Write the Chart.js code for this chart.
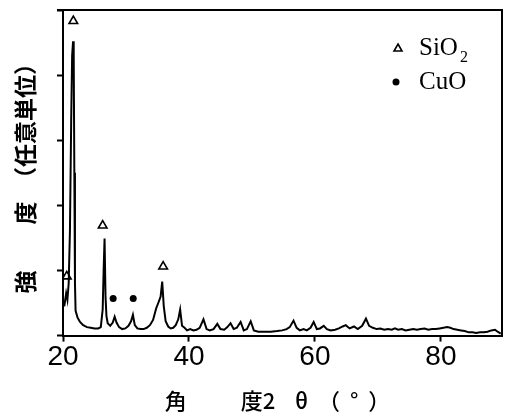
<!DOCTYPE html>
<html><head><meta charset="utf-8">
<script src="https://cdn.jsdelivr.net/npm/chart.js@4/dist/chart.umd.min.js"></script>
<style>html,body{margin:0;padding:0;background:#fff}</style>
</head><body>
<canvas id="c" width="509" height="416" style="width:509px;height:416px;display:block"></canvas>
<script>
// 2θ (degrees) and intensity (arbitrary units)
const angle = [20.2,20.5,20.7,20.9,21.1,21.3,21.45,21.6,21.7,21.8,21.9,22.0,22.3,22.7,23.2,23.8,24.4,25.0,25.6,26.0,26.3,26.45,26.6,26.75,26.9,27.1,27.5,27.9,28.2,28.5,28.9,29.4,29.9,30.4,30.8,31.1,31.4,31.8,32.3,32.8,33.3,33.8,34.3,34.8,35.2,35.5,35.75,36.0,36.3,36.7,37.1,37.5,37.9,38.3,38.6,38.9,39.3,39.7,40.2,40.7,41.2,41.7,42.3,42.8,43.3,43.9,44.5,45.0,45.6,46.1,46.6,47.1,47.6,48.2,48.7,49.2,49.8,50.3,51.0,52.0,53.0,54.0,54.8,55.5,56.0,56.6,57.1,57.6,58.2,58.7,59.3,59.8,60.3,60.8,61.4,61.9,62.5,63.2,63.8,64.4,64.9,65.5,66.2,66.8,67.5,68.1,68.6,69.2,69.8,70.4,71.0,71.6,72.2,72.7,73.2,73.8,74.4,75.0,75.6,76.2,76.8,77.4,78.0,78.6,79.2,79.8,80.4,81.0,81.5,82.0,82.6,83.2,83.8,84.4,85.0,85.6,86.2,86.8,87.4,88.0,88.6,89.0,89.5];
const intensity = [0.45,0.65,0.55,0.8,1.6,3.3,4.3,4.52,4.3,2.5,0.8,0.38,0.28,0.21,0.16,0.13,0.12,0.11,0.11,0.13,0.4,1.0,1.49,0.6,0.3,0.19,0.15,0.2,0.29,0.2,0.13,0.1,0.11,0.15,0.22,0.32,0.16,0.11,0.1,0.1,0.12,0.16,0.24,0.42,0.52,0.6,0.83,0.45,0.22,0.14,0.11,0.12,0.16,0.25,0.4,0.15,0.12,0.08,0.1,0.08,0.09,0.12,0.25,0.1,0.08,0.1,0.18,0.1,0.09,0.13,0.19,0.1,0.12,0.21,0.08,0.1,0.22,0.08,0.06,0.06,0.06,0.07,0.08,0.1,0.13,0.23,0.12,0.08,0.1,0.08,0.12,0.21,0.1,0.11,0.15,0.1,0.08,0.09,0.11,0.14,0.16,0.11,0.14,0.1,0.15,0.26,0.15,0.12,0.1,0.11,0.09,0.1,0.09,0.11,0.09,0.1,0.08,0.09,0.1,0.09,0.1,0.11,0.09,0.1,0.1,0.11,0.12,0.13,0.12,0.1,0.09,0.08,0.07,0.05,0.05,0.04,0.05,0.05,0.06,0.08,0.09,0.06,0.03];
// peak markers
const sio2Angle = [20.6, 21.64, 26.3, 35.9];
const sio2Mark = [0.91, 4.83, 1.69, 1.06];
const cuoAngle = [27.96, 31.15];
const cuoMark = [0.57, 0.57];
const xTicks = [20, 40, 60, 80];
const yTicks = [0, 1, 2, 3, 4, 5];
const xTitle = '角　　  度2    θ  （  °  ）  ';
const yTitle = '強　　度　（任意単位）';
const legendNames = ['SiO', 'CuO'];

const linePts = angle.map((a, i) => ({x: a, y: intensity[i]}));
const sio2Pts = sio2Angle.map((a, i) => ({x: a, y: sio2Mark[i]}));
const cuoPts = cuoAngle.map((a, i) => ({x: a, y: cuoMark[i]}));

const framePlugin = {
  id: 'frame',
  afterDraw(chart) {
    const {ctx, chartArea: a} = chart;
    ctx.save();
    ctx.strokeStyle = '#000';
    ctx.lineWidth = 2;
    ctx.beginPath();
    ctx.moveTo(a.left - 6, a.top);
    ctx.lineTo(a.right, a.top);
    ctx.lineTo(a.right, a.bottom);
    ctx.stroke();
    // legend
    const lx = a.right - 104, ly1 = a.top + 38, ly2 = a.top + 72;
    ctx.lineWidth = 1.6;
    ctx.beginPath();
    ctx.moveTo(lx, ly1 - 4);
    ctx.lineTo(lx + 4, ly1 + 3);
    ctx.lineTo(lx - 4, ly1 + 3);
    ctx.closePath();
    ctx.stroke();
    ctx.fillStyle = '#000';
    ctx.beginPath();
    ctx.arc(lx - 2, ly2, 3.5, 0, Math.PI * 2);
    ctx.fill();
    ctx.font = '25px "Liberation Serif", serif';
    ctx.textBaseline = 'middle';
    ctx.textAlign = 'left';
    ctx.fillText(legendNames[0], lx + 21, ly1);
    const w = ctx.measureText(legendNames[0]).width;
    ctx.font = '16px "Liberation Serif", serif';
    ctx.fillText('2', lx + 23 + w, ly1 + 10);
    ctx.font = '25px "Liberation Serif", serif';
    ctx.fillText(legendNames[1], lx + 21, ly2);
    ctx.restore();
  }
};

new Chart(document.getElementById('c'), {
  type: 'scatter',
  data: {
    datasets: [
      {data: linePts, showLine: true, borderColor: '#000', borderWidth: 2, pointRadius: 0, tension: 0, fill: false},
      {data: sio2Pts, pointStyle: 'triangle', pointRadius: 5, borderColor: '#000', backgroundColor: '#fff', pointBorderWidth: 1.6},
      {data: cuoPts, pointStyle: 'circle', pointRadius: 3.5, borderColor: '#000', backgroundColor: '#000', pointBorderWidth: 0}
    ]
  },
  options: {
    responsive: false,
    animation: false,
    devicePixelRatio: 1,
    layout: {padding: {top: 10, right: 7, left: 0, bottom: 0}},
    plugins: {legend: {display: false}, tooltip: {enabled: false}},
    scales: {
      x: {
        type: 'linear', min: 20, max: 89.7,
        afterBuildTicks: s => { s.ticks = xTicks.map(v => ({value: v})); },
        ticks: {includeBounds: false, color: '#000', padding: 2, font: {family: '"Liberation Sans Narrow", "Liberation Sans", sans-serif', size: 28, lineHeight: 1}},
        grid: {drawOnChartArea: false, drawTicks: true, tickLength: 6, tickWidth: 2, tickColor: '#000'},
        border: {display: true, color: '#000', width: 2},
        title: {display: true, text: xTitle, color: '#000', font: {family: '"Noto Sans CJK JP", sans-serif', size: 22, weight: 500, lineHeight: 1.2}, padding: {top: 14, bottom: 2}}
      },
      y: {
        type: 'linear', min: 0, max: 5,
        afterBuildTicks: s => { s.ticks = yTicks.map(v => ({value: v})); },
        ticks: {display: false},
        grid: {drawOnChartArea: false, drawTicks: true, tickLength: 6, tickWidth: 2, tickColor: '#000'},
        border: {display: true, color: '#000', width: 2},
        title: {display: true, text: yTitle, color: '#000', font: {family: '"Noto Sans CJK JP", sans-serif', size: 23, weight: 'bold', lineHeight: 1.2}, padding: {top: 11, bottom: 18.4}}
      }
    }
  },
  plugins: [framePlugin]
});
</script>
</body></html>
